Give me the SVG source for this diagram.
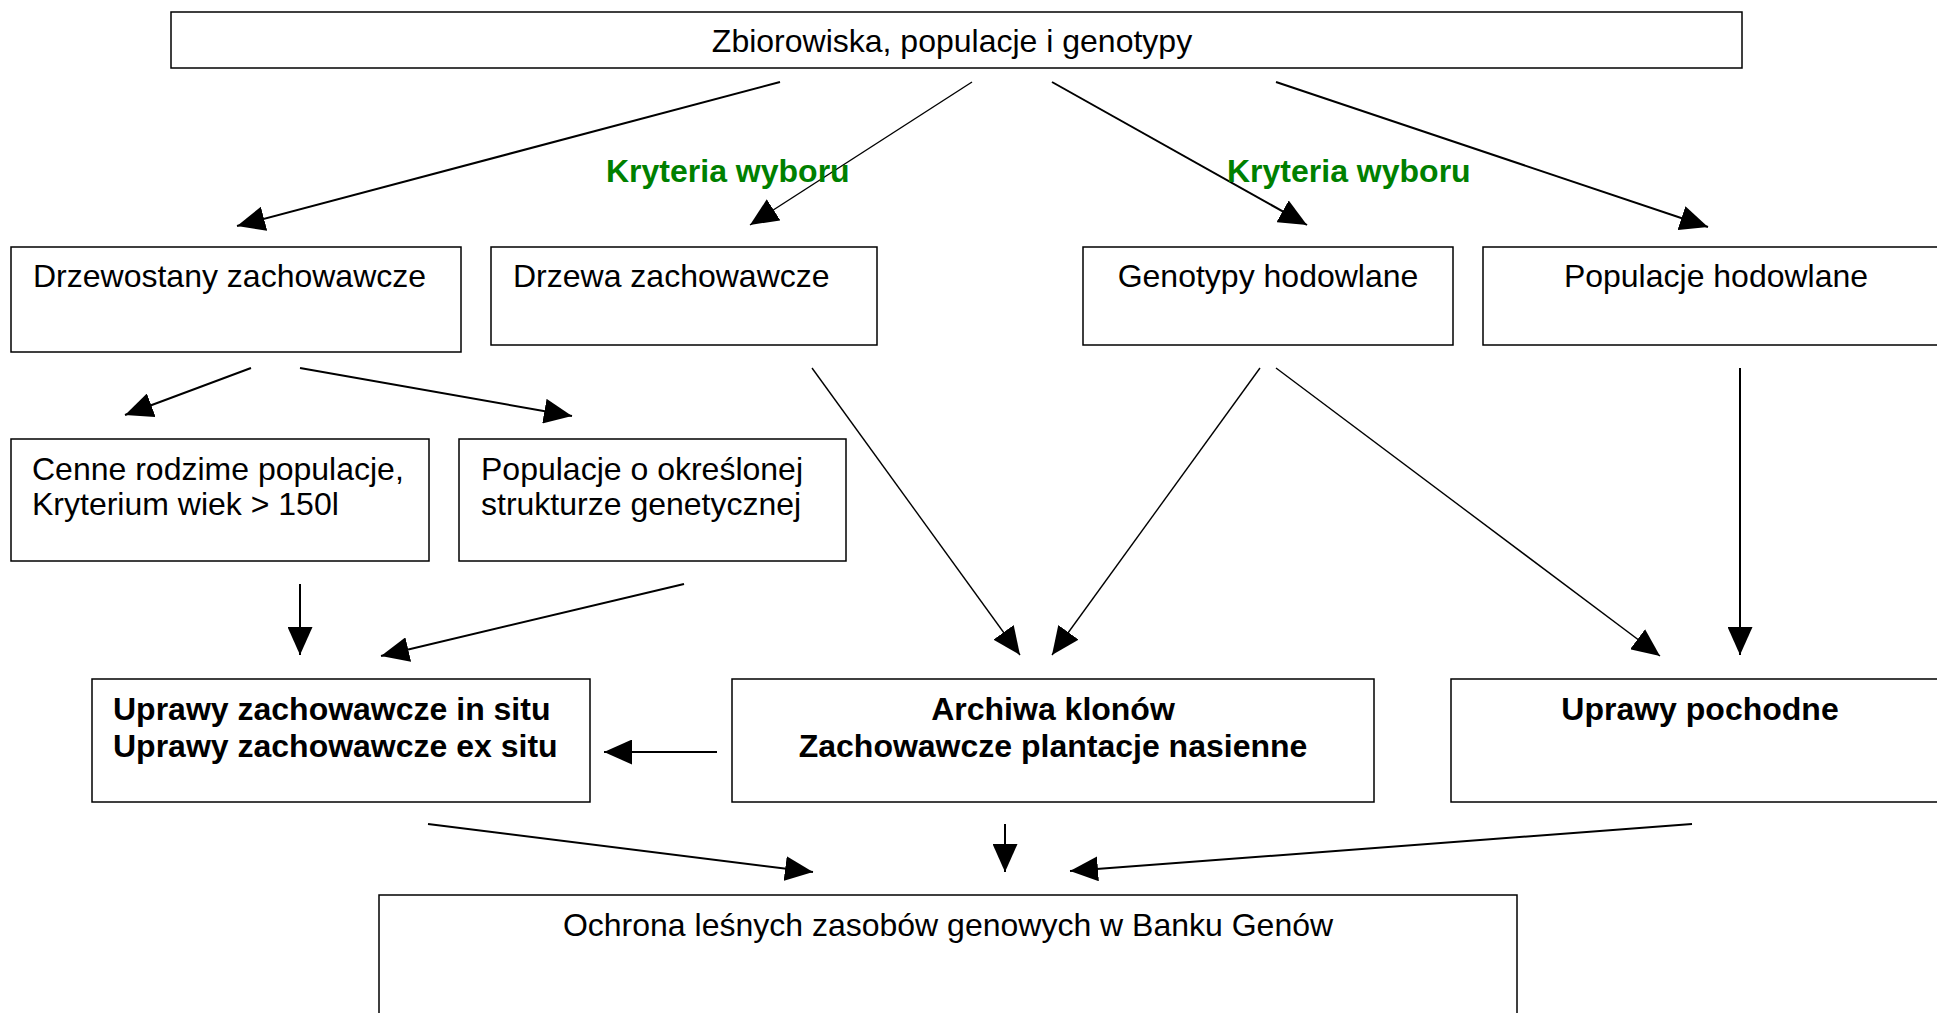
<svg xmlns="http://www.w3.org/2000/svg" width="1937" height="1013" viewBox="0 0 1937 1013">
<defs>
<style>
.box{fill:#fff;stroke:#000;stroke-width:1.5}
.t{font-family:"Liberation Sans",Arial,sans-serif;font-size:32px;fill:#000}
.b{font-weight:bold}
.m{text-anchor:middle}
.g{font-family:"Liberation Sans",Arial,sans-serif;font-size:32px;font-weight:bold;fill:#008000}
.c{fill:none;stroke:#000;stroke-width:2;marker-end:url(#ah)}
.thin{stroke-width:1.4}
</style>
<marker id="ah" markerUnits="userSpaceOnUse" markerWidth="28" markerHeight="25" viewBox="0 0 28 25" refX="28" refY="12.5" orient="auto">
<path d="M0,0 L28,12.5 L0,25 z" fill="#000"/>
</marker>
</defs>
<rect width="1937" height="1013" fill="#fff"/>
<g id="connectors">
<line class="c" x1="780" y1="82" x2="237" y2="226"/>
<line class="c thin" x1="972" y1="82" x2="750" y2="225"/>
<line class="c" x1="1052" y1="82" x2="1307" y2="225"/>
<line class="c" x1="1276" y1="82" x2="1708" y2="227"/>
<line class="c" x1="251" y1="368" x2="125" y2="415"/>
<line class="c" x1="300" y1="368" x2="572" y2="416"/>
<line class="c" x1="300" y1="584" x2="300" y2="655"/>
<line class="c" x1="684" y1="584" x2="381" y2="656"/>
<line class="c" x1="717" y1="752" x2="604" y2="752"/>
<line class="c thin" x1="812" y1="368" x2="1020" y2="655"/>
<line class="c thin" x1="1260" y1="368" x2="1052" y2="655"/>
<line class="c thin" x1="1276" y1="368" x2="1660" y2="656"/>
<line class="c" x1="1740" y1="368" x2="1740" y2="655"/>
<line class="c" x1="428" y1="824" x2="813" y2="872"/>
<line class="c" x1="1005" y1="824" x2="1005" y2="872"/>
<line class="c" x1="1692" y1="824" x2="1070" y2="871"/>
</g>
<g id="n-top">
<rect class="box" x="171" y="12" width="1571" height="56"/>
<text class="t m" x="952" y="52">Zbiorowiska, populacje i genotypy</text>
</g>
<g id="label-left">
<text class="g" x="606" y="182">Kryteria wyboru</text>
</g>
<g id="label-right">
<text class="g" x="1227" y="182">Kryteria wyboru</text>
</g>
<g id="n-drzewostany">
<rect class="box" x="11" y="247" width="450" height="105"/>
<text class="t" x="33" y="287">Drzewostany zachowawcze</text>
</g>
<g id="n-drzewa">
<rect class="box" x="491" y="247" width="386" height="98"/>
<text class="t" x="513" y="287">Drzewa zachowawcze</text>
</g>
<g id="n-genotypy">
<rect class="box" x="1083" y="247" width="370" height="98"/>
<text class="t m" x="1268" y="287">Genotypy hodowlane</text>
</g>
<g id="n-populacje">
<rect class="box" x="1483" y="247" width="466" height="98"/>
<text class="t m" x="1716" y="287">Populacje hodowlane</text>
</g>
<g id="n-cenne">
<rect class="box" x="11" y="439" width="418" height="122"/>
<text class="t" x="32" y="480">Cenne rodzime populacje,</text>
<text class="t" x="32" y="515">Kryterium wiek &gt; 150l</text>
</g>
<g id="n-okreslonej">
<rect class="box" x="459" y="439" width="387" height="122"/>
<text class="t" x="481" y="480">Populacje o określonej</text>
<text class="t" x="481" y="515">strukturze genetycznej</text>
</g>
<g id="n-uprawy-zach">
<rect class="box" x="92" y="679" width="498" height="123"/>
<text class="t b" x="113" y="720">Uprawy zachowawcze in situ</text>
<text class="t b" x="113" y="757">Uprawy zachowawcze ex situ</text>
</g>
<g id="n-archiwa">
<rect class="box" x="732" y="679" width="642" height="123"/>
<text class="t b m" x="1053" y="720">Archiwa klonów</text>
<text class="t b m" x="1053" y="757">Zachowawcze plantacje nasienne</text>
</g>
<g id="n-pochodne">
<rect class="box" x="1451" y="679" width="498" height="123"/>
<text class="t b m" x="1700" y="720">Uprawy pochodne</text>
</g>
<g id="n-bank">
<rect class="box" x="379" y="895" width="1138" height="130"/>
<text class="t m" x="948" y="936">Ochrona leśnych zasobów genowych w Banku Genów</text>
</g>
</svg>
